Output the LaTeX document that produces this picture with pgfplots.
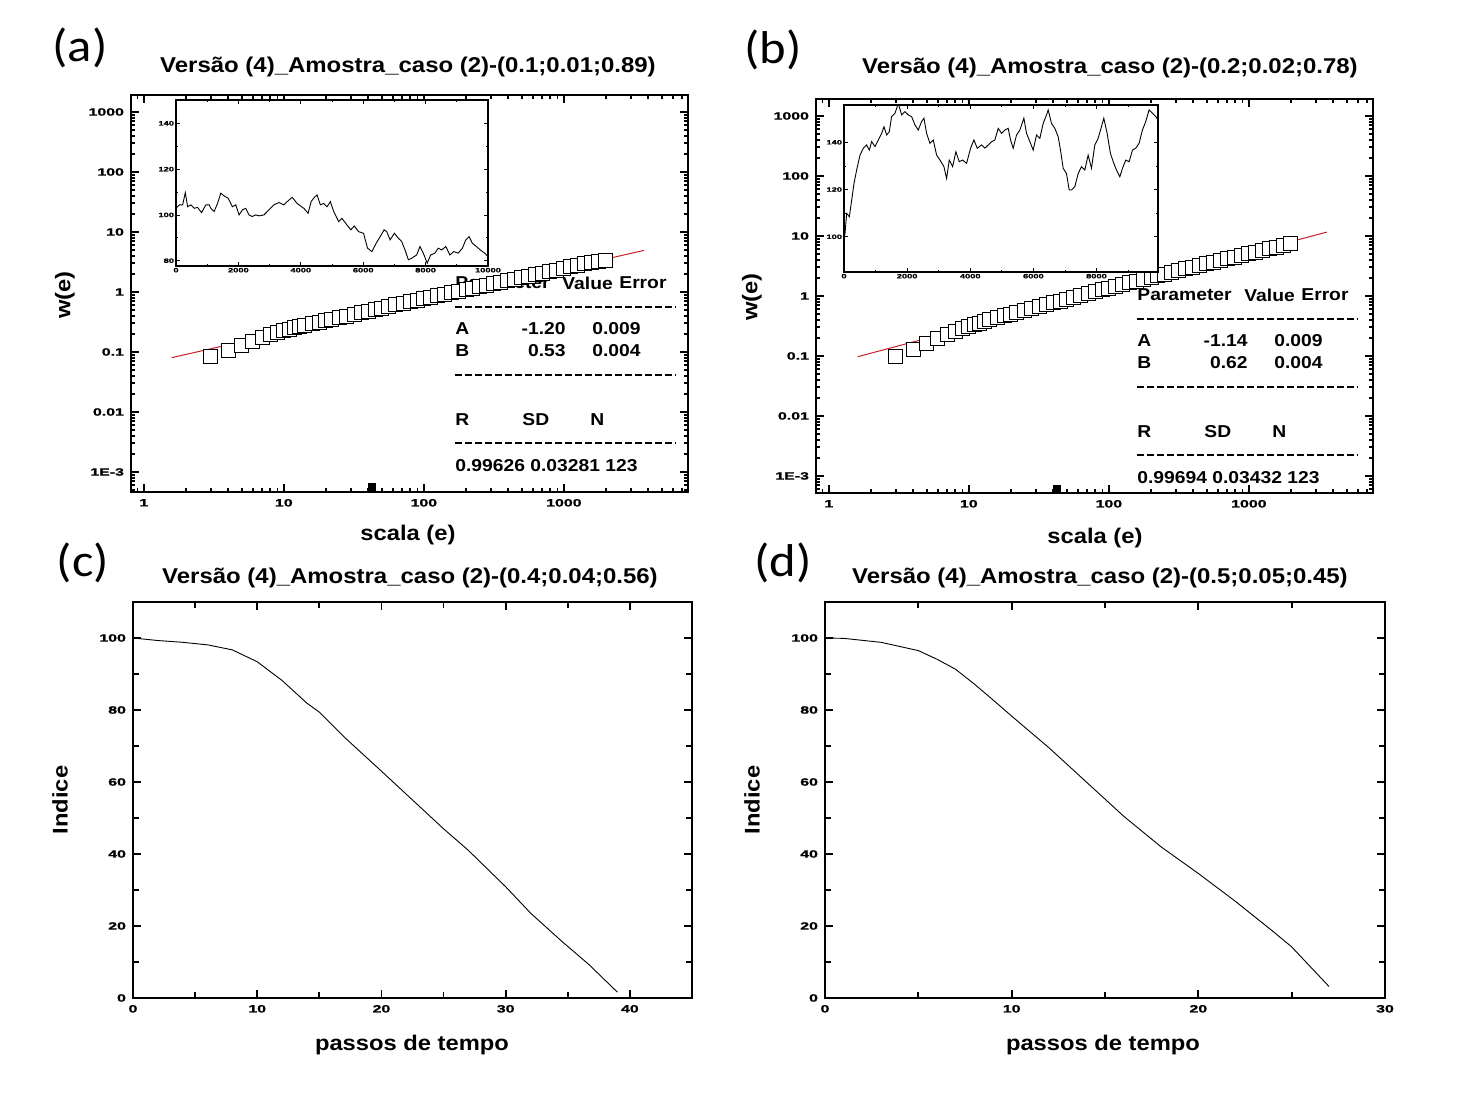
\documentclass[border=0pt]{standalone}
\usepackage{pgfplots}
\pgfplotsset{compat=1.18}
\usepackage{fontspec}
\setmainfont{Liberation Sans}
\newfontfamily\arialw{Liberation Sans}[FakeStretch=1.12]
\newfontfamily\tickf{Liberation Sans}[FakeStretch=1.5,FakeBold=1.2]
\newfontfamily\calib{Carlito}[FakeStretch=1.1]
\definecolor{fitred}{RGB}{200,30,40}

\pgfplotsset{
  mainax/.style={scale only axis, anchor=south west,
    axis line style={line width=1.2pt},
    every tick/.style={black, line width=0.9pt},
    major tick length=4pt, minor tick length=2.2pt,
    tick label style={font=\tickf\bfseries\fontsize{5.3}{7}\selectfont},
    /pgf/number format/assume math mode=true},
  logax/.style={mainax, xmin=0.81, xmax=7700,
    xtick={1,10,100,1000}, xticklabels={1,10,100,1000},
    ytick={0.001,0.01,0.1,1,10,100,1000},
    yticklabels={1E-3,0.01,0.1,1,10,100,1000},
    minor xtick={0.9,2,3,4,5,6,7,8,9,20,30,40,50,60,70,80,90,200,300,400,500,600,700,800,900,2000,3000,4000,5000,6000,7000},
    minor ytick={0.0005,0.0006,0.0007,0.0008,0.0009,0.002,0.003,0.004,0.005,0.006,0.007,0.008,0.009,0.02,0.03,0.04,0.05,0.06,0.07,0.08,0.09,0.2,0.3,0.4,0.5,0.6,0.7,0.8,0.9,2,3,4,5,6,7,8,9,20,30,40,50,60,70,80,90,200,300,400,500,600,700,800,900}},
  insetax/.style={scale only axis, anchor=south west, xmin=0,
    axis background/.style={fill=white},
    axis line style={line width=0.6pt},
    every tick/.style={black, line width=0.4pt},
    major tick length=1.8pt, minor tick length=1pt,
    xtick={0,2000,4000,6000,8000,10000}, minor x tick num=1, minor y tick num=1,
    scaled x ticks=false,
    xticklabel style={/pgf/number format/1000 sep={}},
    tick label style={font=\tickf\bfseries\fontsize{3.1}{3.5}\selectfont, inner sep=0.8pt},
    /pgf/number format/assume math mode=true},
  linax/.style={mainax, ymin=0, ymax=110, ytick={0,20,40,60,80,100},
    minor x tick num=1, minor y tick num=1, minor tick length=3pt}
}

\begin{document}
\begin{tikzpicture}
\path[use as bounding box] (0,0) rectangle (736.5pt,552pt);

% ---- fit-report text (drawn under the markers)
\begin{scope}[shift={(0pt,552pt)},x=0.5pt,y=-0.5pt,
  every node/.style={font=\arialw\bfseries\fontsize{8.6}{10}\selectfont, inner sep=0pt}]
\foreach \dx/\dy in {0/0, 682/12} {
  \node[anchor=west] at (455+\dx,283+\dy) {Parameter};
  \node[anchor=west] at (562+\dx,283+\dy) {Value};
  \node[anchor=west] at (619+\dx,283+\dy) {Error};
  \draw[line width=1pt, dash pattern=on 3.6pt off 1.4pt] (455+\dx,307+\dy) -- (676+\dx,307+\dy);
  \node[anchor=west] at (455+\dx,329+\dy) {A};
  \node[anchor=west] at (455+\dx,351+\dy) {B};
  \draw[line width=1pt, dash pattern=on 3.6pt off 1.4pt] (455+\dx,375+\dy) -- (676+\dx,375+\dy);
  \node[anchor=west] at (455+\dx,420+\dy) {R};
  \node[anchor=west] at (522+\dx,420+\dy) {SD};
  \node[anchor=west] at (590+\dx,420+\dy) {N};
  \draw[line width=1pt, dash pattern=on 3.6pt off 1.4pt] (455+\dx,443+\dy) -- (676+\dx,443+\dy);
}
\node[anchor=east] at (566,329) {-1.20};
\node[anchor=west] at (592,329) {0.009};
\node[anchor=east] at (566,351) {0.53};
\node[anchor=west] at (592,351) {0.004};
\node[anchor=west] at (455,466) {0.99626 0.03281 123};
\node[anchor=east] at (1248,341) {-1.14};
\node[anchor=west] at (1274,341) {0.009};
\node[anchor=east] at (1248,363) {0.62};
\node[anchor=west] at (1274,363) {0.004};
\node[anchor=west] at (1137,478) {0.99694 0.03432 123};
\end{scope}

% ================= (a) main
\begin{loglogaxis}[logax, at={(65.5pt,306pt)}, width=278.5pt, height=198.5pt,
  ymin=4.64e-4, ymax=1920]
\addplot[only marks, mark=square*, mark size=3.5pt,
  mark options={fill=white, draw=black, line width=0.5pt}] coordinates {
(3,0.0838)(4,0.105)(5,0.129)(6,0.152)(7,0.173)(8,0.195)(9,0.212)(10,0.229)
(11,0.241)(12,0.252)(13,0.263)(14,0.274)(16,0.294)(18,0.313)(20,0.331)
(22,0.348)(25,0.372)(28,0.395)(32,0.425)(36,0.452)(40,0.478)(45,0.508)
(50,0.537)(56,0.570)(63,0.608)(71,0.647)(80,0.690)(90,0.734)(100,0.776)
(112,0.824)(126,0.877)(141,0.920)(158,0.977)(178,1.03)(200,1.096)
(224,1.164)(251,1.222)(282,1.300)(316,1.365)(355,1.452)(398,1.542)
(447,1.622)(501,1.722)(562,1.811)(631,1.923)(708,2.046)(794,2.173)
(891,2.312)(1000,2.455)(1122,2.612)(1259,2.773)(1413,2.951)(1585,3.10)
(1778,3.22)(1995,3.30)};
\addplot[fitred, line width=0.5pt] coordinates {(1.58,0.0804)(3730,4.93)};
\addplot[only marks, mark=square*, mark size=1.6pt, black] coordinates {(42.5,5.6e-4)};
\end{loglogaxis}

% ================= (a) inset
\begin{axis}[insetax, at={(88pt,419pt)}, width=156pt, height=83pt,
  xmax=10000, ymin=77.7, ymax=150.2, ytick={80,100,120,140}]
\addplot[black, line width=0.45pt] coordinates {
(0,102.9)(106,104.4)(213,104.4)(298,109.7)(372,103.6)(479,104.4)(585,102.9)
(691,103.3)(819,101)(957,104.4)(1064,104.4)(1117,102.9)(1223,101.5)
(1330,105)(1436,109.5)(1543,108.3)(1670,107.3)(1809,103.6)(1915,104.4)
(2021,100)(2128,102.2)(2234,102.9)(2340,100)(2447,99.3)(2553,100)
(2660,99.6)(2819,100)(2979,102.2)(3138,104.4)(3298,105.4)(3457,104.4)
(3564,105.8)(3723,107.7)(3883,105)(4096,102.9)(4234,100.7)(4330,105.8)
(4436,107.7)(4521,108.7)(4628,104.4)(4734,105)(4840,103.6)(4947,105.8)
(5053,101.5)(5213,97.1)(5319,98.5)(5479,95.6)(5606,93.5)(5713,95.2)
(5851,92.7)(6011,92)(6138,85.5)(6277,84)(6415,87.6)(6543,90.5)(6670,93.5)
(6755,92.7)(6862,89.1)(7000,92)(7128,89.8)(7234,88.4)(7340,84.7)
(7447,80.4)(7553,81.1)(7713,82.5)(7819,86.2)(7926,83.3)(8053,78.9)
(8160,82.5)(8298,83.3)(8404,85.5)(8511,84.7)(8649,86.2)(8777,82.5)
(8904,84)(9043,83.3)(9181,85.5)(9287,89.1)(9394,90.5)(9500,87.6)
(9628,86.2)(9755,84.7)(9894,83.3)(10000,81.8)};
\end{axis}

% ================= (b) main
\begin{loglogaxis}[logax, at={(408pt,305.5pt)}, width=278.5pt, height=197pt,
  ymin=5.2e-4, ymax=1920]
\addplot[only marks, mark=square*, mark size=3.5pt,
  mark options={fill=white, draw=black, line width=0.5pt}] coordinates {
(3,0.0968)(4,0.130)(5,0.163)(6,0.196)(7,0.226)(8,0.257)(9,0.282)(10,0.309)
(11,0.335)(12,0.354)(13,0.381)(14,0.399)(16,0.433)(18,0.466)(20,0.498)
(22,0.527)(25,0.571)(28,0.612)(32,0.665)(36,0.716)(40,0.764)(45,0.822)
(50,0.877)(56,0.942)(63,1.012)(71,1.091)(80,1.175)(90,1.262)(100,1.349)
(112,1.445)(126,1.556)(141,1.648)(158,1.770)(178,1.884)(200,2.028)
(224,2.173)(251,2.307)(282,2.477)(316,2.630)(355,2.825)(398,3.034)
(447,3.184)(501,3.420)(562,3.631)(631,3.855)(708,4.140)(794,4.395)
(891,4.721)(1000,5.012)(1122,5.383)(1259,5.715)(1413,6.138)(1585,6.516)
(1778,6.998)(1995,7.516)};
\addplot[fitred, line width=0.5pt] coordinates {(1.61,0.0973)(3606,11.6)};
\addplot[only marks, mark=square*, mark size=1.6pt, black] coordinates {(42.5,6.1e-4)};
\end{loglogaxis}

% ================= (b) inset
\begin{axis}[insetax, at={(422pt,416pt)}, width=157pt, height=83.5pt,
  xmax=9950, ymin=85.1, ymax=155.8, ytick={100,120,140}]
\addplot[black, line width=0.45pt] coordinates {
(0,99)(32,101.4)(84,109.9)(169,108.5)(243,115.5)(317,122.6)(401,128.3)
(507,134.6)(612,137.5)(718,138.9)(802,136.7)(876,140.3)(982,138.2)
(1087,141)(1193,143.8)(1267,146.6)(1351,143.1)(1435,144.5)(1509,150.9)
(1615,152.3)(1720,156.5)(1826,151.6)(1931,153)(2037,151.6)(2142,150.9)
(2248,147.4)(2353,145.2)(2459,148.8)(2533,150.2)(2617,143.8)(2723,139.6)
(2828,141)(2934,134.6)(3040,132.5)(3166,129.7)(3251,124.7)(3335,132.5)
(3441,129.7)(3546,136)(3652,131.8)(3757,132.5)(3884,131.1)(4011,137.5)
(4116,141)(4222,137.5)(4359,138.9)(4464,137.5)(4570,138.9)(4675,140.3)
(4781,141)(4887,145.9)(4992,143.8)(5098,145.2)(5203,145.9)(5277,141)
(5361,137.5)(5467,143.1)(5573,145.2)(5699,150.2)(5784,143.8)(5889,140.3)
(5995,136.7)(6100,143.1)(6206,141.7)(6311,148)(6417,151.6)(6470,153.7)
(6575,148)(6681,145.9)(6786,142.4)(6860,136.7)(6945,129)(7050,126.8)
(7135,119.8)(7208,119.8)(7314,121.2)(7420,126.8)(7525,129.7)(7631,128.3)
(7736,134.6)(7842,129)(7947,138.9)(8053,141.7)(8158,146.6)(8232,150.2)
(8338,143.8)(8443,135.3)(8549,131.1)(8633,128.3)(8739,125.4)(8844,129.7)
(8929,132.5)(9034,131.8)(9140,136.7)(9245,137.5)(9351,139.6)(9456,145.2)
(9562,148.8)(9667,153.7)(9773,152.3)(9878,150.9)(9950,149.5)};
\end{axis}

% ================= (c)
\begin{axis}[linax, at={(66.5pt,53pt)}, width=279.5pt, height=198pt,
  xmin=0, xmax=45, xtick={0,10,20,30,40}]
\addplot[black, line width=0.45pt] coordinates {
(0,100)(2,99.3)(4,98.8)(6,98.1)(8,96.7)(10,93.4)(12,88.2)(14,81.9)(15,79.4)
(17,72.5)(20,63)(23,53.4)(25,47)(27,41)(30,30.9)(32,23.6)(34.5,15.8)
(36.7,9.3)(39,1.6)};
\end{axis}

% ================= (d)
\begin{axis}[linax, at={(412.5pt,53pt)}, width=280pt, height=198pt,
  xmin=0, xmax=30, xtick={0,10,20,30}]
\addplot[black, line width=0.45pt] coordinates {
(0,100)(1,99.9)(3,98.8)(5,96.5)(6,94.1)(7,91.3)(8,87.2)(9,82.8)(10,78.3)
(12,69.5)(14,60)(16,50.5)(18,42)(20,34.6)(22,26.8)(24,18.5)(25,14.2)(27,3.2)};
\end{axis}

% ---- titles, panel letters, axis labels
\begin{scope}[shift={(0pt,552pt)},x=0.5pt,y=-0.5pt]
\tikzset{ttl/.style={font=\arialw\bfseries\fontsize{10.7}{12}\selectfont, inner sep=0pt},
  lab/.style={font=\arialw\bfseries\fontsize{10.6}{12}\selectfont, inner sep=0pt},
  let/.style={font=\calib\fontsize{23}{25}\selectfont, inner sep=0pt}}
\node[ttl] at (408,67) {Versão (4)\_Amostra\_caso (2)-(0.1;0.01;0.89)};
\node[ttl] at (1110,68) {Versão (4)\_Amostra\_caso (2)-(0.2;0.02;0.78)};
\node[ttl] at (410,578) {Versão (4)\_Amostra\_caso (2)-(0.4;0.04;0.56)};
\node[ttl] at (1100,578) {Versão (4)\_Amostra\_caso (2)-(0.5;0.05;0.45)};
\node[let] at (80,48) {(a)};
\node[let] at (773,50) {(b)};
\node[let] at (83,563) {(c)};
\node[let] at (783,563) {(d)};
\node[lab] at (408,535) {scala (e)};
\node[lab] at (1095,538) {scala (e)};
\node[lab, rotate=90] at (65,295) {w(e)};
\node[lab, rotate=90] at (752,297) {w(e)};
\node[lab, rotate=90] at (60,800) {Indice};
\node[lab, rotate=90] at (752,800) {Indice};
\node[lab] at (412,1045) {passos de tempo};
\node[lab] at (1103,1045) {passos de tempo};
\end{scope}
\end{tikzpicture}
\end{document}
